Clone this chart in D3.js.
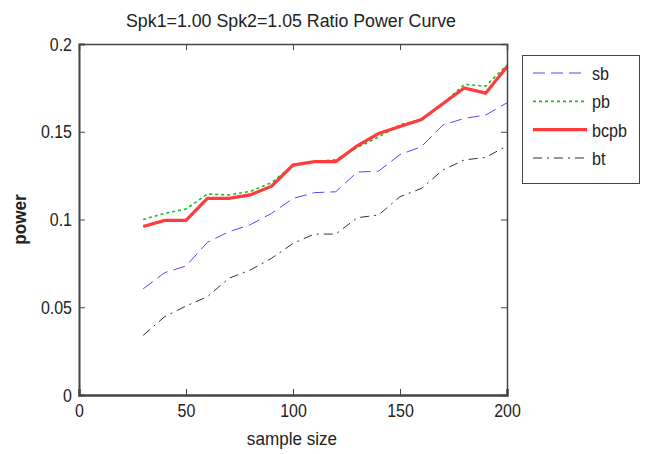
<!DOCTYPE html>
<html><head><meta charset="utf-8">
<script src="https://cdn.jsdelivr.net/npm/d3@7"></script>
<style>body{margin:0;background:#fff}svg{display:block}text{font-family:"Liberation Sans",Arial,sans-serif;fill:#222}</style>
</head><body><svg id="c" width="648" height="454"></svg>
<script>
const sampleSizes = [30,40,50,60,70,80,90,100,110,120,130,140,150,160,170,180,190,200];
const sb   = [0.0605,0.0697,0.0735,0.087,0.093,0.097,0.1035,0.112,0.1153,0.1158,0.127,0.1276,0.137,0.1415,0.1538,0.1576,0.1595,0.1665];
const pb   = [0.100,0.1035,0.106,0.1145,0.114,0.116,0.121,0.131,0.133,0.134,0.141,0.147,0.154,0.157,0.166,0.177,0.176,0.188];
const bcpb = [0.096,0.0995,0.0995,0.112,0.112,0.114,0.119,0.131,0.133,0.133,0.142,0.149,0.153,0.157,0.166,0.175,0.172,0.187];
const bt   = [0.034,0.0446,0.0507,0.056,0.0665,0.0712,0.0779,0.0864,0.0917,0.0917,0.101,0.1026,0.113,0.1177,0.1282,0.1339,0.1354,0.1419];
const xTicks = [0,50,100,150,200];
const yTicks = [0,0.05,0.1,0.15,0.2];
const seriesNames = ["sb","pb","bcpb","bt"];

const svg = d3.select("#c");
const L=79, R=507, T=44, B=395;
const x = d3.scaleLinear().domain([0,200]).range([L,R]);
const y = d3.scaleLinear().domain([0,0.2]).range([B,T]);

const styles = {
  sb:{color:"#4a4aff",w:1,dash:"12,6"},
  pb:{color:"#22b822",w:1.6,dash:"3,3"},
  bcpb:{color:"#ff3b3b",w:3.2,dash:null},
  bt:{color:"#333",w:1,dash:"9,5,2,5"}
};
const data = {sb,pb,bcpb,bt};

function condense(sel, f){
  sel.each(function(){
    const w=this.getComputedTextLength();
    if(w>0){ d3.select(this).attr("textLength",w*f).attr("lengthAdjust","spacingAndGlyphs"); }
  });
}

// title
svg.append("text").attr("x",291).attr("y",27).attr("text-anchor","middle").attr("font-size",18)
  .attr("textLength",330).attr("lengthAdjust","spacingAndGlyphs").text("Spk1=1.00 Spk2=1.05 Ratio Power Curve");

// lines
const line = d3.line().x((d,i)=>x(sampleSizes[i])).y(d=>y(d));
["bt","sb","pb","bcpb"].forEach(k=>{
  const s=styles[k];
  svg.append("path").datum(data[k]).attr("d",line).attr("fill","none")
    .attr("stroke",s.color).attr("stroke-width",s.w).attr("stroke-dasharray",s.dash);
});

// axes box
const axC="#444";
const gx=svg.append("g").attr("transform",`translate(0,${B})`)
  .call(d3.axisBottom(x).tickValues(xTicks).tickFormat(d3.format("d")).tickSize(-6).tickPadding(9));
const gxt=svg.append("g").attr("transform",`translate(0,${T})`)
  .call(d3.axisTop(x).tickValues(xTicks).tickFormat("").tickSize(-6));
const gy=svg.append("g").attr("transform",`translate(${L},0)`)
  .call(d3.axisLeft(y).tickValues(yTicks).tickFormat(d=>d===0?"0":String(d)).tickSize(-6).tickPadding(7));
const gyr=svg.append("g").attr("transform",`translate(${R},0)`)
  .call(d3.axisRight(y).tickValues(yTicks).tickFormat("").tickSize(-6));
[gx,gxt,gy,gyr].forEach(g=>{
  g.select(".domain").attr("stroke",axC).attr("stroke-width",1.5);
  g.selectAll(".tick line").attr("stroke",axC);
  g.selectAll(".tick text").attr("font-size",19).attr("fill","#222")
   .attr("font-family",'"Liberation Sans",Arial,sans-serif');
});
gx.select(".domain").attr("stroke-width",2.5);
gy.select(".domain").attr("stroke-width",2);
condense(gx.selectAll(".tick text"),0.84);
condense(gy.selectAll(".tick text"),0.84);

// axis labels
const xl=svg.append("text").attr("x",292).attr("y",445).attr("text-anchor","middle").attr("font-size",19).text("sample size");
condense(xl,0.9);
const yl=svg.append("text").attr("transform",`translate(26,${(T+B)/2}) rotate(-90)`).attr("text-anchor","middle").attr("font-size",18).attr("font-weight","bold").attr("fill","#333").text("power");
condense(yl,0.95);

// legend
svg.append("rect").attr("x",522.5).attr("y",55.5).attr("width",117).attr("height",128).attr("fill","#fff").attr("stroke","#444").attr("stroke-width",1);
const ly=d3.scalePoint().domain(seriesNames).range([73,158]);
seriesNames.forEach(k=>{
  const s=styles[k];
  svg.append("line").attr("x1",533).attr("x2",587).attr("y1",ly(k)).attr("y2",ly(k))
    .attr("stroke",s.color).attr("stroke-width",s.w).attr("stroke-dasharray",s.dash);
  const t=svg.append("text").attr("x",592).attr("y",ly(k)+7).attr("font-size",19).text(k);
  condense(t,0.85);
});
</script></body></html>
